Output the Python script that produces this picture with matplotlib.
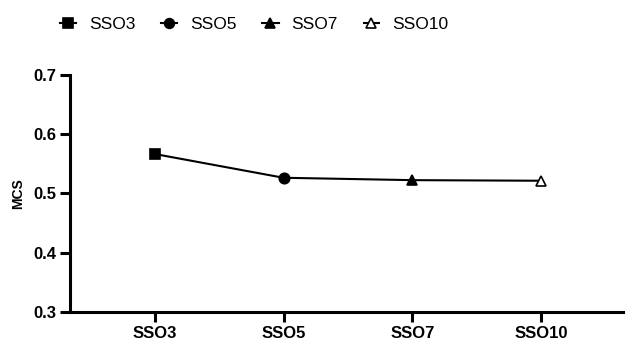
import numpy as np
import matplotlib.pyplot as plt
from matplotlib.lines import Line2D

plt.rcParams['font.family'] = ['Liberation Sans', 'DejaVu Sans']

# MCS por grupo
grupos = ["SSO3", "SSO5", "SSO7", "SSO10"]
mcs = [0.566, 0.526, 0.522, 0.521]
marcadores = ["s", "o", "^", "^"]
rellenos = ["black", "black", "black", "white"]

fig = plt.figure(figsize=(6.36, 3.45), dpi=100)
ax = fig.add_axes([0.110, 0.096, 0.870, 0.688])

x = np.arange(len(grupos))
ax.plot(x, mcs, color="black", lw=1.5, zorder=2)
for xi, yi, m, f in zip(x, mcs, marcadores, rellenos):
    ax.plot(xi, yi, marker=m, ms=7.5, mfc=f, mec="black", mew=1.2, color="black", zorder=3)

ax.set_xlim(-0.66, 3.64)
ax.set_ylim(0.3, 0.7)
ax.set_yticks([0.3, 0.4, 0.5, 0.6, 0.7])
ax.set_xticks(x)
ax.set_xticklabels(grupos, fontweight="bold", fontsize=12)
for t in ax.get_yticklabels():
    t.set_fontweight("bold")
    t.set_fontsize(12)
ax.set_ylabel("MCS", fontweight="bold", fontsize=10, labelpad=6)

for s in ["top", "right"]:
    ax.spines[s].set_visible(False)
for s in ["left", "bottom"]:
    ax.spines[s].set_linewidth(2.2)
ax.tick_params(width=2.2, length=7, pad=3)

# leyenda
handles = []
for g, m, f in zip(grupos, marcadores, rellenos):
    ls = "--" if f == "white" else "-"
    handles.append(Line2D([], [], color="black", lw=1.5, ls=ls, marker=m, ms=7,
                          mfc=f, mec="black", mew=1.2, label=g))
fig.legend(handles=handles, loc="center left", bbox_to_anchor=(0.094, 0.93), ncol=4,
           frameon=False, fontsize=12.5, handlelength=0.95, columnspacing=1.45,
           handletextpad=0.75, borderaxespad=0, borderpad=0)

fig.savefig("out.png", dpi=100)
